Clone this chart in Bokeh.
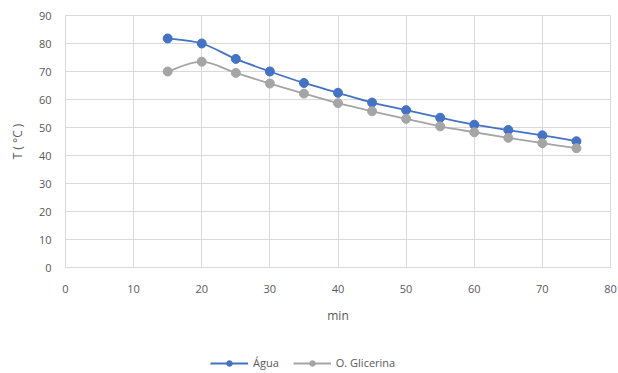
from bokeh.plotting import figure
from bokeh.layouts import column
from bokeh.models import Legend, LegendItem, Range1d, FixedTicker, ColumnDataSource
from bokeh.embed import file_html
from bokeh.resources import INLINE

minutes = [15, 20, 25, 30, 35, 40, 45, 50, 55, 60, 65, 70, 75]
agua = [81.8, 80.0, 74.5, 70.0, 65.9, 62.4, 58.9, 56.2, 53.5, 51.0, 49.1, 47.2, 45.1]
glicerina = [70.0, 73.5, 69.5, 65.7, 62.1, 58.7, 55.8, 53.1, 50.4, 48.3, 46.3, 44.4, 42.6]
series_names = ["Água", "O. Glicerina"]
series_colors = ["#4472C4", "#A5A5A5"]
x_ticks = [0, 10, 20, 30, 40, 50, 60, 70, 80]
y_ticks = [0, 10, 20, 30, 40, 50, 60, 70, 80, 90]

FONT = "Open Sans"
TXT = "#595959"
GRID = "#D9D9D9"

p = figure(width=618, height=345, output_backend="svg", toolbar_location=None,
           x_range=Range1d(0, 80), y_range=Range1d(0, 90),
           min_border_left=65, min_border_right=8, min_border_top=15, min_border_bottom=78)

p.xaxis.ticker = FixedTicker(ticks=x_ticks)
p.yaxis.ticker = FixedTicker(ticks=y_ticks)
for ax in (p.xaxis[0], p.yaxis[0]):
    ax.major_tick_line_color = None
    ax.minor_tick_line_color = None
    ax.axis_line_color = GRID
    ax.major_label_text_font = FONT
    ax.major_label_text_font_size = "11px"
    ax.major_label_text_color = TXT
    ax.axis_label_text_font = FONT
    ax.axis_label_text_font_size = "12px"
    ax.axis_label_text_color = TXT
    ax.axis_label_text_font_style = "normal"
p.xaxis.axis_label = "min"
p.yaxis.axis_label = "T ( °C )"
p.xaxis.major_label_standoff = 11
p.xaxis.axis_label_standoff = 11
p.yaxis.major_label_standoff = 8
p.yaxis.axis_label_standoff = 10
p.xgrid.grid_line_color = GRID
p.ygrid.grid_line_color = GRID
p.outline_line_color = GRID


def smooth(xs, ys):
    n = len(xs)
    seg = dict(x0=[], y0=[], x1=[], y1=[], cx0=[], cy0=[], cx1=[], cy1=[])
    for i in range(n - 1):
        xm, ym = (xs[i - 1], ys[i - 1]) if i > 0 else (xs[i], ys[i])
        xp, yp = (xs[i + 2], ys[i + 2]) if i + 2 < n else (xs[i + 1], ys[i + 1])
        seg["x0"].append(xs[i]); seg["y0"].append(ys[i])
        seg["x1"].append(xs[i + 1]); seg["y1"].append(ys[i + 1])
        seg["cx0"].append(xs[i] + (xs[i + 1] - xm) / 6)
        seg["cy0"].append(ys[i] + (ys[i + 1] - ym) / 6)
        seg["cx1"].append(xs[i + 1] - (xp - xs[i]) / 6)
        seg["cy1"].append(ys[i + 1] - (yp - ys[i]) / 6)
    return ColumnDataSource(seg)


for vals, color in zip((agua, glicerina), series_colors):
    src = smooth(minutes, vals)
    p.bezier(x0="x0", y0="y0", x1="x1", y1="y1", cx0="cx0", cy0="cy0",
             cx1="cx1", cy1="cy1", source=src, line_color=color, line_width=1.8)
    p.scatter(minutes, vals, size=9, fill_color=color, line_color=color)

# separate strip holding the legend below the chart
leg = figure(width=618, height=28, output_backend="svg", toolbar_location=None,
             x_range=Range1d(0, 1), y_range=Range1d(0, 1),
             min_border_left=0, min_border_right=0, min_border_top=0, min_border_bottom=0)
leg.axis.visible = False
leg.grid.visible = False
leg.outline_line_color = None
items = []
for name, color in zip(series_names, series_colors):
    l = leg.line([-5, -4], [-5, -5], line_color=color, line_width=1.8)
    s = leg.scatter([-5], [-5], size=7, fill_color=color, line_color=color)
    items.append(LegendItem(label=name, renderers=[l, s]))
legend = Legend(items=items, orientation="horizontal", location=(145, 3),
                label_text_font=FONT, label_text_font_size="11px", label_text_color=TXT,
                glyph_width=38, glyph_height=14, label_standoff=5, spacing=14,
                padding=0, margin=0, border_line_color=None, background_fill_alpha=0)
leg.add_layout(legend, "center")

open("out.html", "w").write(file_html(column(p, leg), INLINE))
